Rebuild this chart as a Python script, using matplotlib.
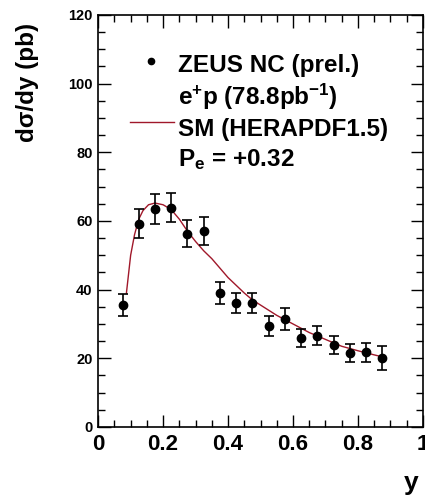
import matplotlib
matplotlib.use('Agg')
import matplotlib.pyplot as plt
from matplotlib.ticker import MultipleLocator

plt.rcParams['font.family'] = ['Liberation Sans', 'DejaVu Sans']
plt.rcParams['font.weight'] = 'bold'
plt.rcParams['mathtext.fontset'] = 'custom'
plt.rcParams['mathtext.rm'] = 'Liberation Sans:bold'
plt.rcParams['mathtext.it'] = 'Liberation Sans:bold'
plt.rcParams['mathtext.bf'] = 'Liberation Sans:bold'
plt.rcParams['mathtext.default'] = 'rm'

# ZEUS NC e+p data points
yBins = [0.075, 0.125, 0.175, 0.225, 0.275, 0.325, 0.375, 0.425, 0.475,
         0.525, 0.575, 0.625, 0.675, 0.725, 0.775, 0.825, 0.875]
xsec = [35.6, 59.2, 63.5, 63.8, 56.3, 57.0, 39.0, 36.1, 36.1,
        29.3, 31.4, 25.9, 26.6, 23.9, 21.5, 21.7, 20.0]
errs = [3.2, 4.3, 4.3, 4.2, 4.0, 4.0, 3.3, 2.9, 3.0,
        2.9, 3.2, 2.6, 2.8, 2.6, 2.7, 2.8, 3.5]

# SM (HERAPDF1.5) prediction
smX = [0.087, 0.10, 0.112, 0.125, 0.138, 0.155, 0.175, 0.20, 0.225, 0.25,
       0.275, 0.30, 0.325, 0.35, 0.40, 0.45, 0.475, 0.50, 0.55, 0.60,
       0.65, 0.70, 0.75, 0.80, 0.85, 0.88]
smY = [39.0, 50.0, 56.0, 60.5, 63.0, 64.7, 65.2, 64.7, 63.3, 60.5,
       57.0, 54.0, 51.3, 49.0, 43.5, 39.0, 37.0, 35.5, 32.5, 30.0,
       27.5, 25.5, 23.5, 22.2, 21.0, 20.3]

smColor = '#a0182a'

fig = plt.figure(figsize=(4.25, 4.99), dpi=100)
ax = fig.add_axes([0.231, 0.1443, 0.764, 0.826])

ax.plot(smX, smY, color=smColor, linewidth=1.0, zorder=2)
ax.errorbar(yBins, xsec, yerr=errs, fmt='o', color='black', markersize=6,
            elinewidth=1.2, capsize=3.5, capthick=1.2, zorder=3)

ax.set_xlim(0, 1)
ax.set_ylim(0, 120)
ax.xaxis.set_major_locator(MultipleLocator(0.2))
ax.xaxis.set_minor_locator(MultipleLocator(0.05))
ax.yaxis.set_major_locator(MultipleLocator(20))
ax.yaxis.set_minor_locator(MultipleLocator(5))
ax.tick_params(which='both', direction='in', top=True, right=True, width=1.0)
ax.tick_params(which='major', length=9)
ax.tick_params(which='minor', length=5)
ax.tick_params(axis='x', labelsize=16, pad=5)
ax.tick_params(axis='y', labelsize=10.5, pad=4)
ax.set_xticks([0, 0.2, 0.4, 0.6, 0.8, 1.0])
ax.set_xticklabels(['0', '0.2', '0.4', '0.6', '0.8', '1'])
for lab in ax.get_xticklabels() + ax.get_yticklabels():
    lab.set_fontweight('bold')
for sp in ax.spines.values():
    sp.set_linewidth(1.2)

fig.text(27.5 / 425, 1 - 23 / 499, 'dσ/dy (pb)', rotation=90, fontsize=17.5,
         fontweight='bold', ha='center', va='top')
fig.text(0.985, 0.008, 'y', fontsize=19, fontweight='bold', ha='right', va='bottom')

# legend block, ROOT style
ax.plot([0.164], [0.889], 'o', color='black', markersize=4.5, transform=ax.transAxes)
ax.plot([0.097, 0.232], [0.741, 0.741], color=smColor, linewidth=1.0,
        transform=ax.transAxes)
legendRows = ['ZEUS NC (prel.)', r'e$^{+}$p (78.8pb$^{-1}$)',
              'SM (HERAPDF1.5)', r'P$_{e}$ = +0.32']
rowY = [0.862, 0.782, 0.705, 0.632]
for txt, yy in zip(legendRows, rowY):
    ax.text(0.247, yy, txt, transform=ax.transAxes, fontsize=17.5,
            fontweight='bold', ha='left', va='baseline')

fig.savefig('out.png', dpi=100)
